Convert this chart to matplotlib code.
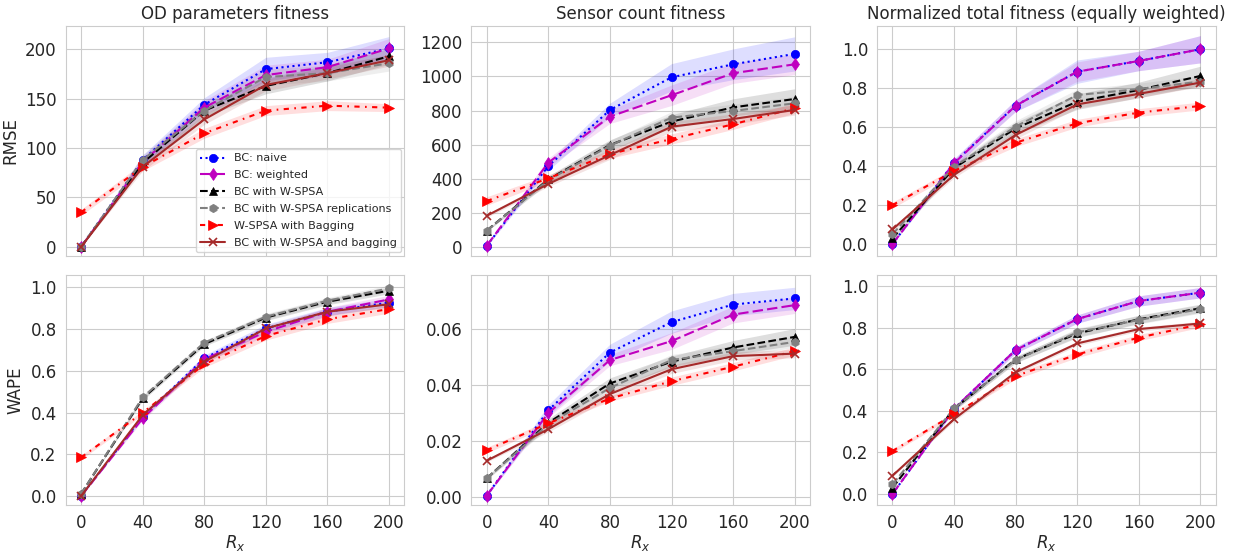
import matplotlib
matplotlib.use("Agg")
import matplotlib.pyplot as plt
import seaborn as sns
import numpy as np

sns.set_style("whitegrid")
plt.rcParams['font.family'] = ['DejaVu Sans']

x_vals = [0, 40, 80, 120, 160, 200]
x_ticks = [0, 40, 80, 120, 160, 200]

series_labels = ["BC: naive", "BC: weighted", "BC with W-SPSA",
                 "BC with W-SPSA replications", "W-SPSA with Bagging",
                 "BC with W-SPSA and bagging"]

col_titles = ["OD parameters fitness", "Sensor count fitness",
              "Normalized total fitness (equally weighted)"]
row_labels = ["RMSE", "WAPE"]

# ---- RMSE, OD parameters ----
rmse_od_naive = [0, 88, 144, 180, 187, 201]
rmse_od_weighted = [0, 86, 141, 174, 182, 201]
rmse_od_wspsa = [0, 85, 138, 163, 176, 193]
rmse_od_repl = [0, 88, 138, 172, 176, 186]
rmse_od_bag = [35, 81, 115, 138, 143, 141]
rmse_od_bcbag = [0, 81, 129, 164, 176, 189]
rmse_od_naive_sd = [0, 5, 7, 12, 10, 12]
rmse_od_weighted_sd = [0, 5, 7, 10, 8, 10]
rmse_od_wspsa_sd = [0, 5, 6, 8, 8, 8]
rmse_od_repl_sd = [0, 5, 7, 8, 8, 8]
rmse_od_bag_sd = [3, 4, 5, 5, 5, 4]
rmse_od_bcbag_sd = [0, 4, 5, 6, 6, 6]

# ---- RMSE, sensor counts ----
rmse_sc_naive = [10, 476, 804, 995, 1071, 1132]
rmse_sc_weighted = [10, 496, 765, 890, 1019, 1071]
rmse_sc_wspsa = [98, 398, 599, 736, 819, 868]
rmse_sc_repl = [98, 394, 595, 759, 798, 843]
rmse_sc_bag = [271, 404, 546, 634, 720, 814]
rmse_sc_bcbag = [185, 371, 540, 706, 751, 804]
rmse_sc_naive_sd = [5, 25, 40, 80, 90, 100]
rmse_sc_weighted_sd = [5, 25, 40, 60, 60, 60]
rmse_sc_wspsa_sd = [5, 20, 30, 40, 50, 60]
rmse_sc_repl_sd = [5, 20, 30, 35, 40, 40]
rmse_sc_bag_sd = [25, 20, 25, 30, 30, 30]
rmse_sc_bcbag_sd = [10, 15, 25, 30, 30, 30]

# ---- RMSE, normalized total ----
rmse_nt_naive = [0.0, 0.418, 0.711, 0.885, 0.940, 1.0]
rmse_nt_weighted = [0.0, 0.415, 0.710, 0.885, 0.940, 1.0]
rmse_nt_wspsa = [0.029, 0.39, 0.594, 0.731, 0.791, 0.863]
rmse_nt_repl = [0.05, 0.397, 0.603, 0.765, 0.796, 0.834]
rmse_nt_bag = [0.20, 0.375, 0.52, 0.62, 0.675, 0.709]
rmse_nt_bcbag = [0.075, 0.355, 0.56, 0.717, 0.771, 0.829]
rmse_nt_naive_sd = [0, 0.02, 0.03, 0.06, 0.05, 0.07]
rmse_nt_weighted_sd = [0, 0.02, 0.03, 0.05, 0.05, 0.07]
rmse_nt_wspsa_sd = [0.01, 0.02, 0.03, 0.04, 0.04, 0.05]
rmse_nt_repl_sd = [0.01, 0.02, 0.03, 0.03, 0.03, 0.03]
rmse_nt_bag_sd = [0.015, 0.015, 0.02, 0.02, 0.02, 0.02]
rmse_nt_bcbag_sd = [0.01, 0.015, 0.02, 0.02, 0.02, 0.02]

# ---- WAPE, OD parameters ----
wape_od_naive = [0.0, 0.38, 0.66, 0.803, 0.883, 0.927]
wape_od_weighted = [0.0, 0.372, 0.655, 0.787, 0.883, 0.942]
wape_od_wspsa = [0.01, 0.468, 0.728, 0.855, 0.931, 0.984]
wape_od_repl = [0.01, 0.473, 0.735, 0.859, 0.936, 0.995]
wape_od_bag = [0.185, 0.399, 0.631, 0.767, 0.847, 0.896]
wape_od_bcbag = [0.0, 0.388, 0.644, 0.803, 0.883, 0.919]
wape_od_naive_sd = [0, 0.01, 0.015, 0.02, 0.02, 0.02]
wape_od_weighted_sd = [0, 0.01, 0.015, 0.02, 0.02, 0.02]
wape_od_wspsa_sd = [0, 0.01, 0.01, 0.015, 0.015, 0.015]
wape_od_repl_sd = [0, 0.01, 0.01, 0.015, 0.015, 0.015]
wape_od_bag_sd = [0.01, 0.01, 0.015, 0.02, 0.02, 0.02]
wape_od_bcbag_sd = [0, 0.01, 0.01, 0.015, 0.015, 0.015]

# ---- WAPE, sensor counts ----
wape_sc_naive = [0.0004, 0.031, 0.0517, 0.0626, 0.0689, 0.0711]
wape_sc_weighted = [0.0004, 0.030, 0.049, 0.0558, 0.0653, 0.0687]
wape_sc_wspsa = [0.0066, 0.0265, 0.0406, 0.0484, 0.0535, 0.0573]
wape_sc_repl = [0.0066, 0.026, 0.039, 0.049, 0.0522, 0.0555]
wape_sc_bag = [0.0167, 0.0263, 0.0352, 0.0414, 0.0466, 0.0522]
wape_sc_bcbag = [0.0129, 0.0242, 0.0368, 0.0457, 0.0504, 0.0513]
wape_sc_naive_sd = [0.0003, 0.002, 0.003, 0.004, 0.004, 0.004]
wape_sc_weighted_sd = [0.0003, 0.0015, 0.002, 0.003, 0.003, 0.003]
wape_sc_wspsa_sd = [0.0005, 0.0015, 0.002, 0.002, 0.0025, 0.003]
wape_sc_repl_sd = [0.0005, 0.0015, 0.002, 0.002, 0.002, 0.002]
wape_sc_bag_sd = [0.001, 0.001, 0.001, 0.0015, 0.0015, 0.0015]
wape_sc_bcbag_sd = [0.0005, 0.001, 0.0015, 0.0015, 0.0015, 0.0015]

# ---- WAPE, normalized total ----
wape_nt_naive = [0.0, 0.41, 0.692, 0.841, 0.928, 0.968]
wape_nt_weighted = [0.0, 0.41, 0.692, 0.841, 0.928, 0.968]
wape_nt_wspsa = [0.03, 0.41, 0.647, 0.772, 0.84, 0.893]
wape_nt_repl = [0.046, 0.412, 0.644, 0.777, 0.837, 0.889]
wape_nt_bag = [0.207, 0.383, 0.567, 0.671, 0.752, 0.816]
wape_nt_bcbag = [0.088, 0.36, 0.585, 0.724, 0.793, 0.82]
wape_nt_naive_sd = [0, 0.01, 0.015, 0.02, 0.025, 0.025]
wape_nt_weighted_sd = [0, 0.01, 0.015, 0.02, 0.025, 0.025]
wape_nt_wspsa_sd = [0.005, 0.01, 0.015, 0.02, 0.02, 0.02]
wape_nt_repl_sd = [0.005, 0.01, 0.015, 0.02, 0.02, 0.02]
wape_nt_bag_sd = [0.01, 0.01, 0.015, 0.015, 0.015, 0.015]
wape_nt_bcbag_sd = [0.005, 0.01, 0.01, 0.01, 0.01, 0.01]

panels = [
    [
        ([rmse_od_naive, rmse_od_weighted, rmse_od_wspsa, rmse_od_repl, rmse_od_bag, rmse_od_bcbag],
         [rmse_od_naive_sd, rmse_od_weighted_sd, rmse_od_wspsa_sd, rmse_od_repl_sd, rmse_od_bag_sd, rmse_od_bcbag_sd]),
        ([rmse_sc_naive, rmse_sc_weighted, rmse_sc_wspsa, rmse_sc_repl, rmse_sc_bag, rmse_sc_bcbag],
         [rmse_sc_naive_sd, rmse_sc_weighted_sd, rmse_sc_wspsa_sd, rmse_sc_repl_sd, rmse_sc_bag_sd, rmse_sc_bcbag_sd]),
        ([rmse_nt_naive, rmse_nt_weighted, rmse_nt_wspsa, rmse_nt_repl, rmse_nt_bag, rmse_nt_bcbag],
         [rmse_nt_naive_sd, rmse_nt_weighted_sd, rmse_nt_wspsa_sd, rmse_nt_repl_sd, rmse_nt_bag_sd, rmse_nt_bcbag_sd]),
    ],
    [
        ([wape_od_naive, wape_od_weighted, wape_od_wspsa, wape_od_repl, wape_od_bag, wape_od_bcbag],
         [wape_od_naive_sd, wape_od_weighted_sd, wape_od_wspsa_sd, wape_od_repl_sd, wape_od_bag_sd, wape_od_bcbag_sd]),
        ([wape_sc_naive, wape_sc_weighted, wape_sc_wspsa, wape_sc_repl, wape_sc_bag, wape_sc_bcbag],
         [wape_sc_naive_sd, wape_sc_weighted_sd, wape_sc_wspsa_sd, wape_sc_repl_sd, wape_sc_bag_sd, wape_sc_bcbag_sd]),
        ([wape_nt_naive, wape_nt_weighted, wape_nt_wspsa, wape_nt_repl, wape_nt_bag, wape_nt_bcbag],
         [wape_nt_naive_sd, wape_nt_weighted_sd, wape_nt_wspsa_sd, wape_nt_repl_sd, wape_nt_bag_sd, wape_nt_bcbag_sd]),
    ],
]

ylims = [[(-9, 224), (-49, 1297), (-0.06, 1.121)],
         [(-0.043, 1.059), (-0.003, 0.0795), (-0.053, 1.053)]]
yticks = [[[0, 50, 100, 150, 200], [0, 200, 400, 600, 800, 1000, 1200], [0.0, 0.2, 0.4, 0.6, 0.8, 1.0]],
          [[0.0, 0.2, 0.4, 0.6, 0.8, 1.0], [0.00, 0.02, 0.04, 0.06], [0.0, 0.2, 0.4, 0.6, 0.8, 1.0]]]
yfmt = [["{:.0f}", "{:.0f}", "{:.1f}"], ["{:.1f}", "{:.2f}", "{:.1f}"]]

colors = ["blue", "m", "black", "gray", "red", "brown"]
markers = ["o", "d", "^", "h", ">", "x"]
styles = [dict(linestyle=":"), dict(dashes=(5, 2)), dict(linestyle="--"),
          dict(linestyle="--"), dict(dashes=(2.5, 2.6, 0.8, 2.6)), dict(linestyle="-")]
msizes = [6, 6, 6, 6, 7, 6]

fig, axes = plt.subplots(2, 3, figsize=(12.35, 5.53), dpi=100)
fig.subplots_adjust(left=0.0532, right=0.9844, top=0.9535, bottom=0.0868,
                    wspace=0.198, hspace=0.084)

for r in range(2):
    for c in range(3):
        ax = axes[r][c]
        means, sds = panels[r][c]
        for i in range(6):
            m = np.array(means[i]); s = np.array(sds[i])
            ax.fill_between(x_vals, m - s, m + s, color=colors[i], alpha=0.13, linewidth=0)
        for i in range(6):
            ax.plot(x_vals, means[i], color=colors[i], marker=markers[i],
                    markersize=msizes[i], linewidth=1.5, label=series_labels[i],
                    markeredgewidth=1.2 if markers[i] == "x" else 0.5, **styles[i])
        ax.set_xticks(x_ticks)
        ax.set_ylim(*ylims[r][c])
        ax.set_yticks(yticks[r][c])
        ax.set_yticklabels([yfmt[r][c].format(v) for v in yticks[r][c]])
        ax.tick_params(labelsize=12, colors=".15", pad=3)
        if r == 0:
            ax.set_title(col_titles[c], fontsize=12, color=".15", pad=5)
            ax.tick_params(labelbottom=False)
        else:
            ax.set_xlabel("$R_x$", fontsize=12, color=".15", labelpad=1)
        if c == 0:
            ax.set_ylabel(row_labels[r], fontsize=12, color=".15")

axes[0][0].legend(loc="lower right", fontsize=8, borderaxespad=0.3,
                  handlelength=2.2, labelspacing=0.62, framealpha=0.8)

fig.savefig("out.png", dpi=100)
